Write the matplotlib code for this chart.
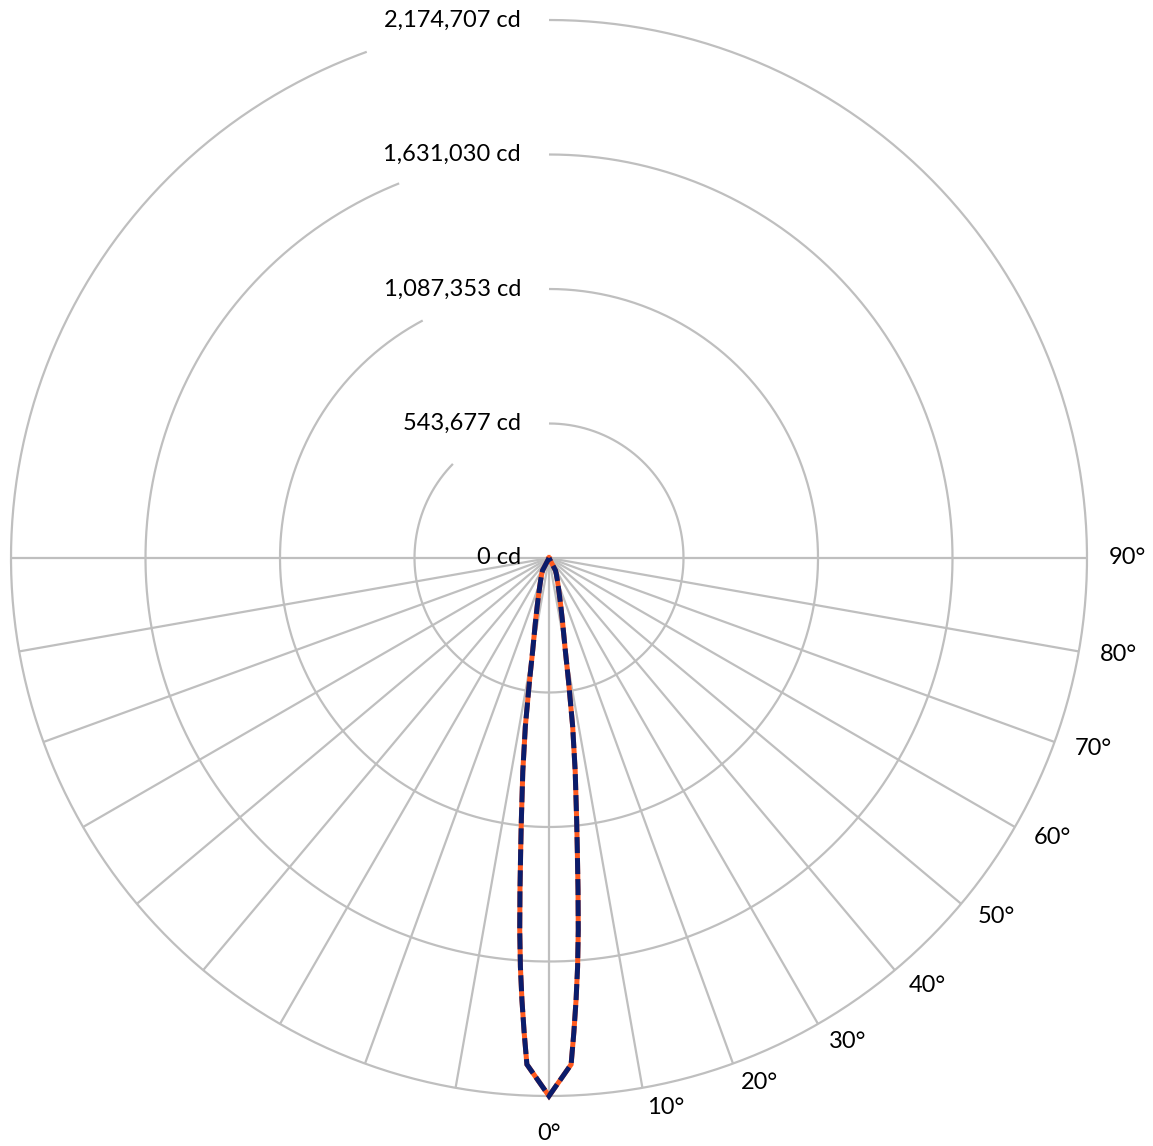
import numpy as np
import matplotlib
matplotlib.use("Agg")
import matplotlib.pyplot as plt

plt.rcParams['font.family'] = ['Lato', 'DejaVu Sans']

# ---- data ----
ring_values = [543677, 1087353, 1631030, 2174707]
ring_labels = ["543,677 cd", "1,087,353 cd", "1,631,030 cd", "2,174,707 cd"]
zero_label = "0 cd"
angle_tick_values = [0, 10, 20, 30, 40, 50, 60, 70, 80, 90]
angle_tick_labels = ["0°", "10°", "20°", "30°", "40°", "50°", "60°", "70°", "80°", "90°"]

# half-profile (degrees from nadir) and intensity (cd)
profile_angles = [0, 2.5, 3, 3.5, 4, 4.5, 5, 5.5, 6, 7, 8, 9, 10, 12, 14, 16, 18, 20, 25, 27.5, 30, 40, 50, 60, 70, 80, 90]
profile_cd = [2174707, 2049000, 1920000, 1791000, 1657000, 1508000, 1346000, 1196000, 1071000,
              869000, 687000, 505000, 380000, 263000, 194000, 150000, 121000, 101000, 69000, 57000,
              0, 0, 0, 0, 0, 0, 0]

# ---- layout ----
W, H = 1153, 1146
cx_px, cy_px, R_px = 549, 558, 538
Rmax = ring_values[-1]
k = Rmax / R_px  # data units per pixel

fig = plt.figure(figsize=(W / 100, H / 100), dpi=100)
ax = fig.add_axes([0, 0, 1, 1])
ax.set_xlim(-cx_px * k, (W - cx_px) * k)
ax.set_ylim(-(H - cy_px) * k, cy_px * k)
ax.axis('off')

grid_c = '#BFBFBF'
grid_lw = 1.6

# circles with a gap on the upper-left where labels sit
gap_deg = [45.6, 28.0, 21.8, 19.8]
for r, g in zip(ring_values, gap_deg):
    phi = np.radians(np.linspace(0, 360 - g, 720))
    ax.plot(r * np.sin(phi), r * np.cos(phi), color=grid_c, lw=grid_lw, zorder=1,
            solid_capstyle='butt')

# radial spokes in the lower half, every 10 degrees
for a in range(-90, 91, 10):
    t = np.radians(a)
    ax.plot([0, Rmax * np.sin(t)], [0, -Rmax * np.cos(t)], color=grid_c, lw=grid_lw, zorder=1,
            solid_capstyle='butt')

# ring labels
fs = 17
for r, lab in zip(ring_values, ring_labels):
    ax.text(-28 * k, r, lab, ha='right', va='center', fontsize=fs, color='black', zorder=3)
ax.text(-28 * k, 0, zero_label, ha='right', va='center', fontsize=fs, color='black', zorder=3)

# angle labels
for a, lab in zip(angle_tick_values, angle_tick_labels):
    t = np.radians(a)
    ex, ey = R_px * np.sin(t), R_px * np.cos(t)
    if a == 0:
        px, py = 0, R_px + 37
    else:
        px = ex + 20 + 20 * np.sin(t)
        py = ey + 20 * np.cos(t)
    ax.text(px * k, -py * k, lab, ha='center', va='center', fontsize=fs, color='black', zorder=3)

# intensity curve (mirrored)
ang = np.array(profile_angles, dtype=float)
cd = np.array(profile_cd, dtype=float)
full_ang = np.concatenate([-ang[::-1], ang[1:]])
full_cd = np.concatenate([cd[::-1], cd[1:]])
t = np.radians(full_ang)
x = full_cd * np.sin(t)
y = -full_cd * np.cos(t)

ax.plot(x, y, color='#FF5A1F', lw=3.6, zorder=4, solid_joinstyle='miter')
ax.plot(x, y, color='#0B1C6B', lw=3.6, zorder=5, dashes=(3.2, 1.0), dash_joinstyle='miter',
        dash_capstyle='butt')

fig.savefig('out.png', dpi=100)
